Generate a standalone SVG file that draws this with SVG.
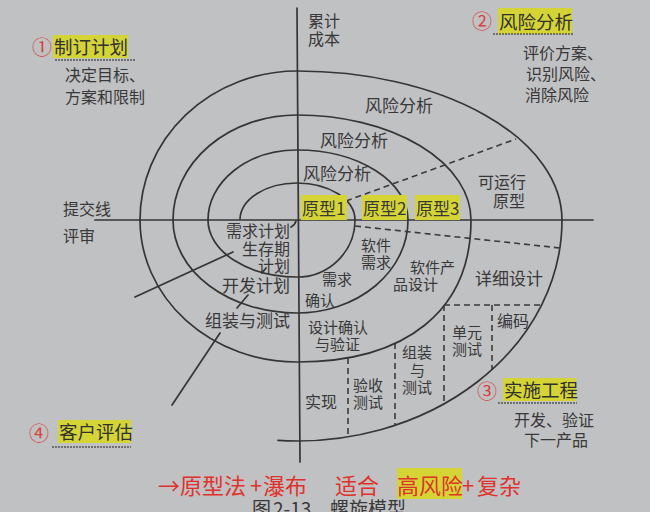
<svg xmlns="http://www.w3.org/2000/svg" width="650" height="512" viewBox="0 0 650 512">
<style>
  .t { font-family: "Noto Sans CJK SC", "Noto Sans", sans-serif; fill: #383838; }
  .s15 { font-size: 15px; }
  .s16 { font-size: 16px; }
  .s17 { font-size: 17px; }
  .h { font-size: 18.5px; fill: #303030; }
  .num { font-family: "Noto Sans CJK SC", sans-serif; font-size: 20px; fill: #d8403c; }
  .red { font-family: "Noto Sans CJK SC", sans-serif; font-size: 22px; fill: #e0322c; }
  .hl { fill: #d4d535; }
  .ln { fill: none; stroke: #353535; stroke-width: 1.7; stroke-linecap: round; }
  .dash { fill: none; stroke: #3a3a3a; stroke-width: 1.6; stroke-dasharray: 6 4; }
  .ul { fill: none; stroke: #555; stroke-width: 1.6; stroke-dasharray: 2 1; }
</style>
<rect x="0" y="0" width="650" height="512" fill="#c0c1c3"/>

<g id="connectors">
  <line class="ln" x1="297" y1="8" x2="300" y2="462"/>
  <line class="ln" x1="95" y1="220" x2="593" y2="220"/>
  <path class="ln" d="M 240 219 A 57 37 0 0 1 297 183 A 58 37 0 0 1 355 220 A 58 57 0 0 1 297 277 A 89 57 0 0 1 208 220 A 89 70 0 0 1 297 150 A 111 70 0 0 1 408 220 A 111 93 0 0 1 297 313 A 124 93 0 0 1 173 220 A 124 105 0 0 1 297 115 A 174 105 0 0 1 471 220 C 471 310 407 362 297 362 A 157 142 0 0 1 140 220 A 157 149 0 0 1 297 71 A 265 149 0 0 1 562 220 A 265 221 0 0 1 278 440.4"/>
  <line class="dash" x1="346" y1="201" x2="516" y2="139"/>
  <line class="dash" x1="355" y1="226" x2="560" y2="248"/>
  <line class="dash" x1="444" y1="305" x2="542" y2="305"/>
  <line class="dash" x1="444" y1="305" x2="444" y2="404"/>
  <line class="dash" x1="492" y1="305" x2="492" y2="370"/>
  <line class="dash" x1="395" y1="343" x2="395" y2="425"/>
  <line class="dash" x1="348" y1="358" x2="348" y2="437"/>
  <line class="ln" x1="135" y1="297" x2="233" y2="252"/>
  <line class="ln" x1="237" y1="308" x2="248" y2="295"/>
  <line class="ln" x1="220" y1="333" x2="172" y2="405"/>
  <path class="ln" d="M 291 227 Q 295 225 296 221" stroke-width="1.3"/>
  <line class="ln" x1="262" y1="273" x2="266" y2="268" stroke-width="1.3"/>
</g>

<g id="q1-plan">
  <text class="num" x="32" y="55">①</text>
  <rect class="hl" x="53" y="35" width="75" height="23"/>
  <text class="t h" x="54" y="54">制订计划</text>
  <line class="ul" x1="55" y1="60" x2="135" y2="60"/>
  <text class="t s16" x="65" y="81">决定目标、</text>
  <text class="t s16" x="65" y="103">方案和限制</text>
</g>

<g id="q2-risk">
  <text class="num" x="472" y="29">②</text>
  <rect class="hl" x="498" y="8" width="74" height="26"/>
  <text class="t h" x="499" y="29">风险分析</text>
  <line class="ul" x1="493" y1="34" x2="573" y2="34"/>
  <text class="t s16" x="523" y="59">评价方案、</text>
  <text class="t s16" x="526" y="80">识别风险、</text>
  <text class="t s16" x="525" y="101">消除风险</text>
</g>

<g id="q3-engineering">
  <text class="num" x="477" y="399">③</text>
  <rect class="hl" x="503" y="378" width="73" height="23"/>
  <text class="t h" x="504" y="397">实施工程</text>
  <line class="ul" x1="498" y1="403" x2="577" y2="403"/>
  <text class="t s16" x="514" y="426">开发、验证</text>
  <text class="t s16" x="524" y="446">下一产品</text>
</g>

<g id="q4-evaluation">
  <text class="num" x="29" y="441">④</text>
  <rect class="hl" x="58" y="420" width="73" height="23"/>
  <text class="t h" x="59" y="439">客户评估</text>
  <line class="ul" x1="52" y1="447" x2="131" y2="447"/>
</g>

<g id="axis-labels">
  <text class="t s16" x="308" y="27">累计</text>
  <text class="t s16" x="308" y="45">成本</text>
  <text class="t s16" x="63" y="215">提交线</text>
  <text class="t s16" x="63" y="242">评审</text>
</g>

<g id="risk-analysis">
  <text class="t s17" x="365" y="112">风险分析</text>
  <text class="t s17" x="320" y="147">风险分析</text>
  <text class="t s17" x="303" y="180">风险分析</text>
</g>

<g id="prototypes">
  <rect class="hl" x="301" y="195" width="46" height="25"/>
  <text class="t s17" x="302" y="215">原型1</text>
  <rect class="hl" x="362" y="195" width="45" height="25"/>
  <text class="t s17" x="363" y="215">原型2</text>
  <rect class="hl" x="415" y="195" width="45" height="25"/>
  <text class="t s17" x="416" y="215">原型3</text>
  <text class="t s16" x="478" y="188">可运行</text>
  <text class="t s16" x="493" y="207">原型</text>
</g>

<g id="planning">
  <text class="t s16" x="290" y="237" text-anchor="end">需求计划</text>
  <text class="t s16" x="290" y="255" text-anchor="end">生存期</text>
  <text class="t s16" x="290" y="272" text-anchor="end">计划</text>
  <text class="t s17" x="290" y="292" text-anchor="end">开发计划</text>
  <text class="t s17" x="290" y="327" text-anchor="end">组装与测试</text>
</g>

<g id="engineering">
  <text class="t s15" x="361" y="251">软件</text>
  <text class="t s15" x="361" y="268">需求</text>
  <text class="t s15" x="322" y="285">需求</text>
  <text class="t s15" x="305" y="306">确认</text>
  <text class="t s15" x="410" y="273">软件产</text>
  <text class="t s15" x="393" y="290">品设计</text>
  <text class="t s17" x="475" y="285">详细设计</text>
  <text class="t s15" x="308" y="333">设计确认</text>
  <text class="t s15" x="315" y="350">与验证</text>
  <text class="t s16" x="497" y="327">编码</text>
  <text class="t s15" x="452" y="338">单元</text>
  <text class="t s15" x="452" y="355">测试</text>
  <text class="t s15" x="402" y="358">组装</text>
  <text class="t s15" x="410" y="376">与</text>
  <text class="t s15" x="402" y="393">测试</text>
  <text class="t s15" x="353" y="391">验收</text>
  <text class="t s15" x="353" y="408">测试</text>
  <text class="t s16" x="305" y="408">实现</text>
</g>

<g id="note">
  <rect class="hl" x="397" y="468" width="65" height="31"/>
  <text class="red" y="494"><tspan x="158">→</tspan><tspan x="180">原型法</tspan><tspan x="250">+</tspan><tspan x="263">瀑布</tspan><tspan x="335">适合</tspan><tspan x="397">高风险</tspan><tspan x="462">+</tspan><tspan x="477">复杂</tspan></text>
</g>

<g id="caption">
  <text class="t" font-size="19" y="516"><tspan x="252">图</tspan><tspan x="273">2-13</tspan><tspan x="330">螺旋模型</tspan></text>
</g>
</svg>
